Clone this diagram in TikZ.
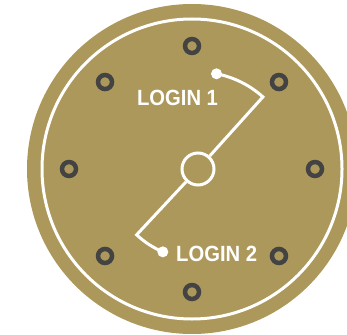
\documentclass[tikz,border=0pt]{standalone}
\usepackage{fontspec}
\setmainfont{Liberation Sans}
\newfontfamily\loginfont[FakeStretch=0.92]{Liberation Sans}
\usepackage{xcolor}
\usepackage{tikz}
\usetikzlibrary{calc}
\definecolor{clockgold}{HTML}{AD985B}
\definecolor{tickgray}{HTML}{434343}

\begin{document}
\begin{tikzpicture}[
  x=1pt, y=-1pt,
  every node/.style={font=\loginfont\fontsize{22}{24}\selectfont\bfseries},
  hub/.style={circle, draw=white, line width=3pt, minimum size=32pt, inner sep=0pt},
  tick/.style={circle, draw=tickgray, line width=4.5pt, minimum size=14pt, inner sep=0pt},
  handend/.style={circle, fill=white, minimum size=11pt, inner sep=0pt},
  hand/.style={draw=white, line width=3pt, line join=miter},
  loginlabel/.style={text=white, inner sep=0pt}
]
\useasboundingbox (0,0) rectangle (347,334);
\clip (0,0) rectangle (347,334);

% dial
\coordinate (c) at (192,169);
\fill[clockgold] (c) circle[radius=165];
\draw[white, line width=3pt] (c) circle[radius=150];
\foreach \a in {0,45,...,315}
  \node[tick] (t\a) at ($(c)+(\a:123)$) {};

% hands
\node[hub] (hub) at (198,169) {};
\node[handend] (end1) at ($(hub.center)+(-79:97)$) {};
\coordinate (bend1) at ($(hub.center)+(-48:97)$);
\node[handend] (end2) at ($(hub.center)+(113:90)$) {};
\coordinate (bend2) at ($(hub.center)+(133:90)$);

\draw[hand] (end1.center) arc[start angle=-79, end angle=-48, radius=97] -- (hub);
\draw[hand] (hub) -- (bend2) arc[start angle=133, end angle=113, radius=90];

% labels
\node[loginlabel, anchor=base] (login1) at (177.5,105) {LOGIN 1};
\node[loginlabel, anchor=base west] (login2) at (176,261) {LOGIN 2};
\end{tikzpicture}
\end{document}
